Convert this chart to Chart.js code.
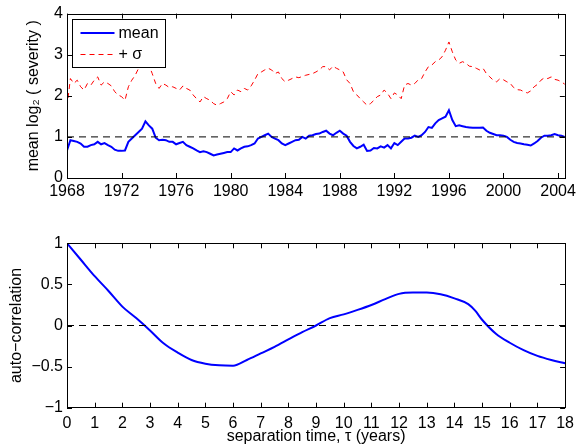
<!DOCTYPE html>
<html>
<head>
<meta charset="utf-8">
<script src="https://cdn.jsdelivr.net/npm/chart.js@4/dist/chart.umd.min.js"></script>
<style>
  html, body { margin: 0; padding: 0; background: #fff; }
  #wrap { position: relative; width: 580px; height: 448px; }
  .panel { position: absolute; left: 0; width: 580px; height: 224px; }
</style>
</head>
<body>
<div id="wrap">
  <div class="panel" style="top:0"><canvas id="topChart"></canvas></div>
  <div class="panel" style="top:224px"><canvas id="bottomChart"></canvas></div>
</div>
<script>
// ---- top panel: mean log2 severity, quarterly readings ----
const years = [
  1968.00, 1968.25, 1968.50, 1968.75, 1969.00, 1969.25, 1969.50, 1969.75,
  1970.00, 1970.25, 1970.50, 1970.75, 1971.00, 1971.25, 1971.50, 1971.75,
  1972.00, 1972.25, 1972.50, 1972.75, 1973.00, 1973.25, 1973.50, 1973.75,
  1974.00, 1974.25, 1974.50, 1974.75, 1975.00, 1975.25, 1975.50, 1975.75,
  1976.00, 1976.25, 1976.50, 1976.75, 1977.00, 1977.25, 1977.50, 1977.75,
  1978.00, 1978.25, 1978.50, 1978.75, 1979.00, 1979.25, 1979.50, 1979.75,
  1980.00, 1980.25, 1980.50, 1980.75, 1981.00, 1981.25, 1981.50, 1981.75,
  1982.00, 1982.25, 1982.50, 1982.75, 1983.00, 1983.25, 1983.50, 1983.75,
  1984.00, 1984.25, 1984.50, 1984.75, 1985.00, 1985.25, 1985.50, 1985.75,
  1986.00, 1986.25, 1986.50, 1986.75, 1987.00, 1987.25, 1987.50, 1987.75,
  1988.00, 1988.25, 1988.50, 1988.75, 1989.00, 1989.25, 1989.50, 1989.75,
  1990.00, 1990.25, 1990.50, 1990.75, 1991.00, 1991.25, 1991.50, 1991.75,
  1992.00, 1992.25, 1992.50, 1992.75, 1993.00, 1993.25, 1993.50, 1993.75,
  1994.00, 1994.25, 1994.50, 1994.75, 1995.00, 1995.25, 1995.50, 1995.75,
  1996.00, 1996.25, 1996.50, 1996.75, 1997.00, 1997.25, 1997.50, 1997.75,
  1998.00, 1998.25, 1998.50, 1998.75, 1999.00, 1999.25, 1999.50, 1999.75,
  2000.00, 2000.25, 2000.50, 2000.75, 2001.00, 2001.25, 2001.50, 2001.75,
  2002.00, 2002.25, 2002.50, 2002.75, 2003.00, 2003.25, 2003.50, 2003.75,
  2004.00, 2004.25, 2004.50
];

const meanSeverity = [
  0.67, 0.92, 0.90, 0.88, 0.84, 0.76, 0.76, 0.80,
  0.82, 0.88, 0.82, 0.85, 0.80, 0.76, 0.69, 0.66,
  0.66, 0.67, 0.88, 0.96, 1.04, 1.12, 1.20, 1.38,
  1.28, 1.20, 0.98, 0.92, 0.93, 0.92, 0.88, 0.88,
  0.82, 0.85, 0.88, 0.80, 0.76, 0.72, 0.67, 0.63,
  0.65, 0.63, 0.59, 0.55, 0.57, 0.59, 0.61, 0.63,
  0.63, 0.72, 0.67, 0.72, 0.76, 0.77, 0.80, 0.84,
  0.96, 1.00, 1.04, 1.08, 1.00, 0.96, 0.92, 0.84,
  0.80, 0.84, 0.88, 0.92, 0.93, 1.00, 0.96, 1.03,
  1.04, 1.07, 1.08, 1.12, 1.15, 1.08, 1.04, 1.10,
  1.15, 1.08, 1.03, 0.88, 0.78, 0.72, 0.76, 0.81,
  0.66, 0.67, 0.73, 0.72, 0.77, 0.74, 0.80, 0.72,
  0.85, 0.80, 0.88, 0.96, 0.96, 0.98, 1.03, 1.00,
  1.04, 1.12, 1.24, 1.22, 1.33, 1.41, 1.45, 1.49,
  1.65, 1.41, 1.26, 1.28, 1.26, 1.24, 1.23, 1.22,
  1.22, 1.22, 1.23, 1.15, 1.10, 1.07, 1.04, 1.04,
  1.03, 1.00, 0.93, 0.88, 0.85, 0.84, 0.82, 0.81,
  0.79, 0.84, 0.90, 0.98, 1.03, 1.03, 1.04, 1.07,
  1.04, 1.03, 1.00
];

const meanPlusSigma = [
  1.73, 2.42, 2.30, 2.38, 2.22, 2.14, 2.30, 2.26,
  2.38, 2.46, 2.26, 2.34, 2.30, 2.24, 2.10, 2.02,
  1.98, 1.89, 2.22, 2.38, 2.50, 2.67, 2.75, 2.83,
  2.75, 2.54, 2.30, 2.18, 2.30, 2.26, 2.20, 2.22,
  2.18, 2.14, 2.24, 2.18, 2.14, 2.02, 1.93, 1.85,
  1.98, 1.93, 1.89, 1.81, 1.77, 1.81, 1.85, 1.93,
  2.10, 2.02, 2.14, 2.10, 2.18, 2.14, 2.24, 2.38,
  2.54, 2.58, 2.63, 2.67, 2.63, 2.54, 2.58, 2.42,
  2.34, 2.38, 2.42, 2.46, 2.44, 2.47, 2.50, 2.52,
  2.54, 2.58, 2.63, 2.71, 2.71, 2.63, 2.72, 2.67,
  2.63, 2.58, 2.39, 2.30, 2.10, 2.02, 1.93, 1.85,
  1.77, 1.81, 1.89, 1.98, 2.02, 2.14, 2.06, 1.93,
  2.07, 2.02, 1.93, 2.26, 2.30, 2.26, 2.30, 2.39,
  2.42, 2.58, 2.71, 2.75, 2.83, 2.87, 2.95, 3.11,
  3.31, 3.07, 2.87, 2.79, 2.83, 2.79, 2.72, 2.71,
  2.67, 2.63, 2.67, 2.54, 2.46, 2.38, 2.34, 2.42,
  2.39, 2.34, 2.30, 2.20, 2.15, 2.14, 2.10, 2.07,
  2.12, 2.22, 2.28, 2.38, 2.44, 2.42, 2.46, 2.40,
  2.38, 2.34, 2.28
];

const topXTicks = [1968, 1972, 1976, 1980, 1984, 1988, 1992, 1996, 2000, 2004];
const topYTicks = [0, 1, 2, 3, 4];
const topXRange = [1968, 2004.5];
const topRefLevel = 1;

// ---- bottom panel: auto-correlation vs separation time ----
const lagYears = [
  0, 0.5, 1, 1.5, 2, 2.5, 3, 3.5, 4, 4.5, 5, 5.5, 6, 6.5, 7, 7.5, 8, 8.5,
  9, 9.5, 10, 10.5, 11, 11.5, 12, 12.5, 13, 13.5, 14, 14.5, 14.75, 15, 15.5, 16, 16.5,
  17, 17.5, 18
];
const autoCorr = [
  1.00, 0.80, 0.60, 0.42, 0.23, 0.09, -0.06, -0.22, -0.33, -0.42, -0.465, -0.485,
  -0.49, -0.42, -0.34, -0.26, -0.17, -0.08, 0.00, 0.09, 0.135, 0.19, 0.25, 0.32,
  0.385, 0.40, 0.40, 0.38, 0.33, 0.26, 0.18, 0.07, -0.10, -0.21, -0.30, -0.37, -0.42,
  -0.46
];
const bottomXTicks = [0, 1, 2, 3, 4, 5, 6, 7, 8, 9, 10, 11, 12, 13, 14, 15, 16, 17, 18];
const bottomYTicks = [-1, -0.5, 0, 0.5, 1];
const bottomRefLevel = 0;

const FONT = { family: '"Liberation Sans", Arial, Helvetica, sans-serif', size: 16 };

function fmt(v) {
  return v < 0 ? '\u2212' + Math.abs(v) : String(v);
}

// box round the plot area with inward tick marks on all four sides
const frameTicks = {
  id: 'frameTicks',
  afterDatasetsDraw(chart) {
    const { ctx, chartArea: a, scales: { x, y } } = chart;
    const len = 5;
    ctx.save();
    ctx.strokeStyle = '#000';
    ctx.lineWidth = 1;
    ctx.beginPath();
    x.ticks.forEach(t => {
      const px = Math.round(x.getPixelForValue(t.value)) + 0.5;
      ctx.moveTo(px, a.bottom); ctx.lineTo(px, a.bottom - len);
      ctx.moveTo(px, a.top); ctx.lineTo(px, a.top + len);
    });
    y.ticks.forEach(t => {
      const py = Math.round(y.getPixelForValue(t.value)) + 0.5;
      ctx.moveTo(a.left, py); ctx.lineTo(a.left + len, py);
      ctx.moveTo(a.right, py); ctx.lineTo(a.right - len, py);
    });
    ctx.stroke();
    ctx.strokeRect(Math.round(a.left) + 0.5, Math.round(a.top) + 0.5,
      Math.round(a.right - a.left), Math.round(a.bottom - a.top));
    ctx.restore();
  }
};

// matlab style legend box in the upper left corner
const boxLegend = {
  id: 'boxLegend',
  afterDraw(chart, args, opts) {
    if (!opts.show) return;
    const { ctx, chartArea: a } = chart;
    const items = chart.data.datasets
      .filter(d => d.legendRank)
      .sort((p, q) => p.legendRank - q.legendRank);
    const left = Math.round(a.left + 5) + 0.5, top = Math.round(a.top + 5) + 0.5;
    const w = 93, rowH = 21.5, h = 48;
    ctx.save();
    ctx.fillStyle = '#fff';
    ctx.fillRect(left, top, w, h);
    ctx.strokeStyle = '#000';
    ctx.lineWidth = 1;
    ctx.strokeRect(left, top, w, h);
    ctx.font = FONT.size + 'px ' + FONT.family;
    ctx.textBaseline = 'middle';
    items.forEach((d, i) => {
      const cy = top + 13.5 + i * rowH;
      ctx.strokeStyle = d.borderColor;
      ctx.lineWidth = d.borderWidth;
      ctx.setLineDash(d.borderDash || []);
      ctx.beginPath();
      ctx.moveTo(left + 8, cy);
      ctx.lineTo(left + 42, cy);
      ctx.stroke();
      ctx.setLineDash([]);
      ctx.fillStyle = '#000';
      ctx.fillText(d.label, left + 46, cy + 0.5);
    });
    ctx.restore();
  }
};

function setTicks(list) {
  return scale => { scale.ticks = list.map(v => ({ value: v })); };
}

function baseOptions(cfg) {
  return {
    responsive: true,
    maintainAspectRatio: false,
    animation: false,
    layout: { padding: { top: cfg.padTop, right: 12.5, left: 0, bottom: 0 } },
    plugins: {
      legend: { display: false },
      tooltip: { enabled: false },
      boxLegend: { show: cfg.legend }
    },
    elements: { point: { radius: 0 } },
    scales: {
      x: {
        type: 'linear',
        min: cfg.xRange[0],
        max: cfg.xRange[1],
        afterBuildTicks: setTicks(cfg.xTicks),
        afterFit: s => { s.height = cfg.xAxisH; },
        grid: { display: false, drawTicks: false },
        border: { display: false },
        ticks: { color: '#000', font: FONT, padding: cfg.xPad, maxRotation: 0, autoSkip: false, callback: v => fmt(v) },
        title: cfg.xTitle ? { display: true, text: cfg.xTitle, color: '#000', font: FONT, padding: { top: 0, bottom: 1.5 } } : { display: false }
      },
      y: {
        type: 'linear',
        min: cfg.yTicks[0],
        max: cfg.yTicks[cfg.yTicks.length - 1],
        afterBuildTicks: setTicks(cfg.yTicks),
        afterFit: s => { s.width = 67; },
        grid: { display: false, drawTicks: false },
        border: { display: false },
        ticks: { color: '#000', font: FONT, padding: 4, autoSkip: false, callback: v => fmt(v) },
        title: { display: true, text: cfg.yTitle, color: '#000', font: FONT, padding: { top: cfg.yTitlePad, bottom: 0 } }
      }
    }
  };
}

new Chart(document.getElementById('topChart'), {
  type: 'line',
  data: {
    datasets: [
      {
        label: 'ref',
        data: topXRange.map(x => ({ x, y: topRefLevel })),
        borderColor: '#000', borderWidth: 1, borderDash: [7, 5]
      },
      {
        label: '+ \u03c3',
        data: years.map((x, i) => ({ x, y: meanPlusSigma[i] })),
        borderColor: '#ff0000', borderWidth: 1, borderDash: [5, 4], legendRank: 2
      },
      {
        label: 'mean',
        data: years.map((x, i) => ({ x, y: meanSeverity[i] })),
        borderColor: '#0000ff', borderWidth: 2, legendRank: 1
      }
    ]
  },
  options: baseOptions({
    padTop: 13, xRange: topXRange, xTicks: topXTicks, yTicks: topYTicks,
    xAxisH: 46, xPad: 4, yTitle: 'mean log\u2082 ( severity )', yTitlePad: 24, legend: true
  }),
  plugins: [frameTicks, boxLegend]
});

new Chart(document.getElementById('bottomChart'), {
  type: 'line',
  data: {
    datasets: [
      {
        label: 'zero',
        data: [bottomXTicks[0], bottomXTicks[bottomXTicks.length - 1]].map(x => ({ x, y: bottomRefLevel })),
        borderColor: '#000', borderWidth: 1, borderDash: [7, 5]
      },
      {
        label: 'auto-correlation',
        data: lagYears.map((x, i) => ({ x, y: autoCorr[i] })),
        borderColor: '#0000ff', borderWidth: 2, cubicInterpolationMode: 'monotone'
      }
    ]
  },
  options: baseOptions({
    padTop: 19.3, xRange: [bottomXTicks[0], bottomXTicks[bottomXTicks.length - 1]],
    xTicks: bottomXTicks, yTicks: bottomYTicks, xAxisH: 40.3, xPad: 6,
    xTitle: 'separation time, \u03c4 (years)', yTitle: 'auto\u2212correlation', yTitlePad: 7, legend: false
  }),
  plugins: [frameTicks]
});
</script>
</body>
</html>
